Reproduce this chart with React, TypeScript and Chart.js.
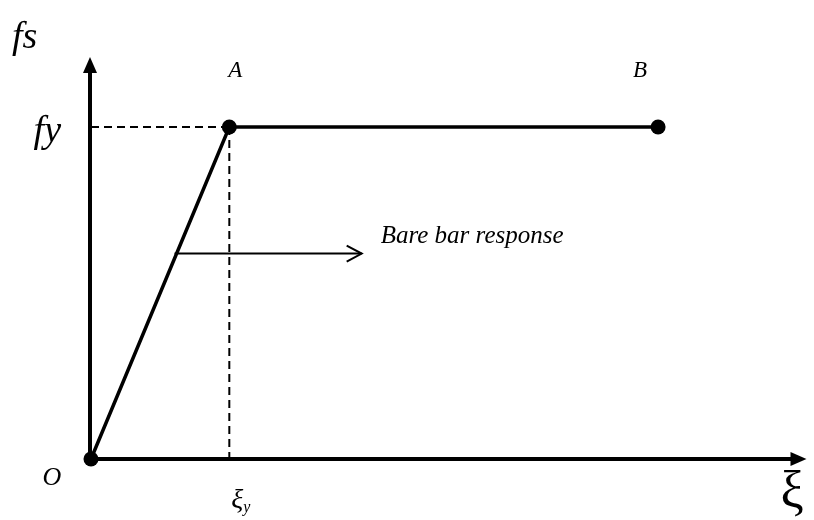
import React, { useEffect, useRef } from "react";
import { Chart, registerables } from "chart.js";

Chart.register(...registerables);

// Bare bar response: stress (fs) vs strain (ξ), normalised so yield = 1
const pointNames = ["O", "A", "B"];
const strain = [0, 1, 4.1];
const stress = [0, 1, 1];
const yieldStrain = 1;
const yieldStress = 1;
const xAxisMax = 5.173;
const yAxisMax = 1.211;
const annotationText = "Bare bar response";
const annotationStrain = [0.604, 1.957];
const annotationStress = 0.619;
const yAxisTitle = "fs";
const yTickLabel = "fy";
const xAxisTitle = "ξ";
const xTickLabel = "ξ";
const xTickSub = "y";

const SERIF = '"Liberation Serif", "DejaVu Serif", serif';

const drawingPlugin = {
  id: "drawing",
  beforeDatasetsDraw(chart: any) {
    const { ctx, scales } = chart;
    const x = scales.x;
    const y = scales.y;
    const ox = x.getPixelForValue(0);
    const oy = y.getPixelForValue(0);
    const xTip = x.getPixelForValue(xAxisMax);
    const yTip = y.getPixelForValue(yAxisMax);
    ctx.save();
    ctx.strokeStyle = "#000";
    ctx.fillStyle = "#000";
    ctx.lineWidth = 4;
    ctx.lineCap = "butt";
    // y axis
    ctx.beginPath();
    ctx.moveTo(ox - 1, oy);
    ctx.lineTo(ox - 1, yTip + 12);
    ctx.stroke();
    ctx.beginPath();
    ctx.moveTo(ox - 1, yTip);
    ctx.lineTo(ox - 8, yTip + 16);
    ctx.lineTo(ox + 6, yTip + 16);
    ctx.closePath();
    ctx.fill();
    // x axis
    ctx.beginPath();
    ctx.moveTo(ox, oy);
    ctx.lineTo(xTip - 12, oy);
    ctx.stroke();
    ctx.beginPath();
    ctx.moveTo(xTip, oy);
    ctx.lineTo(xTip - 16, oy - 7);
    ctx.lineTo(xTip - 16, oy + 7);
    ctx.closePath();
    ctx.fill();
    // annotation arrow
    const ay = y.getPixelForValue(annotationStress);
    const ax0 = x.getPixelForValue(annotationStrain[0]);
    const ax1 = x.getPixelForValue(annotationStrain[1]);
    ctx.lineWidth = 2;
    ctx.beginPath();
    ctx.moveTo(ax0, ay);
    ctx.lineTo(ax1, ay);
    ctx.stroke();
    ctx.beginPath();
    ctx.moveTo(ax1 - 15, ay - 8);
    ctx.lineTo(ax1, ay);
    ctx.lineTo(ax1 - 15, ay + 8);
    ctx.stroke();
    ctx.restore();
  },
  afterDraw(chart: any) {
    const { ctx, scales } = chart;
    const x = scales.x;
    const y = scales.y;
    ctx.save();
    ctx.fillStyle = "#000";
    ctx.textBaseline = "alphabetic";
    // point labels
    const offsets: Record<string, [number, number, number]> = {
      O: [-39, 26, 26],
      A: [6, -50, 23],
      B: [-18, -50, 23],
    };
    pointNames.forEach((n, i) => {
      const px = x.getPixelForValue(strain[i]);
      const py = y.getPixelForValue(stress[i]);
      const [dx, dy, fs] = offsets[n];
      ctx.font = `italic ${fs}px ${SERIF}`;
      ctx.textAlign = "center";
      ctx.fillText(n, px + dx, py + dy);
    });
    const ox = x.getPixelForValue(0);
    const oy = y.getPixelForValue(0);
    // axis titles
    ctx.font = `italic 38px ${SERIF}`;
    ctx.textAlign = "left";
    ctx.fillText(yAxisTitle, 12, 48);
    ctx.textAlign = "right";
    ctx.fillText(yTickLabel, ox - 30, y.getPixelForValue(yieldStress) + 15);
    ctx.font = `52px ${SERIF}`;
    ctx.textAlign = "left";
    ctx.fillText(xAxisTitle, x.getPixelForValue(xAxisMax) - 26, oy + 48);
    // ξy
    const xyPx = x.getPixelForValue(yieldStrain) + 2;
    ctx.font = `italic 28px ${SERIF}`;
    ctx.fillText(xTickLabel, xyPx, oy + 49);
    const w = ctx.measureText(xTickLabel).width;
    ctx.font = `italic 16px ${SERIF}`;
    ctx.fillText(xTickSub, xyPx + w, oy + 53);
    // annotation text
    ctx.font = `italic 25px ${SERIF}`;
    ctx.fillText(annotationText, x.getPixelForValue(annotationStrain[1]) + 19, y.getPixelForValue(annotationStress) - 11);
    ctx.restore();
  },
};

export default function App() {
  const ref = useRef<HTMLCanvasElement | null>(null);
  useEffect(() => {
    document.body.style.margin = "0";
    const canvas = ref.current!;
    const chart = new Chart(canvas, {
      type: "scatter",
      data: {
        datasets: [
          {
            label: "Yield stress",
            data: [
              { x: 0, y: yieldStress },
              { x: yieldStrain, y: yieldStress },
            ],
            showLine: true,
            borderColor: "#000",
            borderWidth: 2,
            borderDash: [8, 5],
            pointRadius: 0,
            clip: false,
          },
          {
            label: "Yield strain",
            data: [
              { x: yieldStrain, y: yieldStress },
              { x: yieldStrain, y: 0 },
            ],
            showLine: true,
            borderColor: "#000",
            borderWidth: 2,
            borderDash: [8, 5],
            pointRadius: 0,
            clip: false,
          },
          {
            label: "Bare bar response",
            data: strain.map((s, i) => ({ x: s, y: stress[i] })),
            showLine: true,
            borderColor: "#000",
            backgroundColor: "#000",
            borderWidth: 3.5,
            pointRadius: 7.5,
            pointBackgroundColor: "#000",
            pointBorderWidth: 0,
            clip: false,
          },
        ],
      },
      options: {
        responsive: false,
        animation: false,
        devicePixelRatio: 1,
        layout: { padding: { left: 91, right: 4, top: 57, bottom: 61 } },
        plugins: { legend: { display: false }, tooltip: { enabled: false } },
        events: [],
        scales: {
          x: { type: "linear", min: 0, max: xAxisMax, display: false },
          y: { type: "linear", min: 0, max: yAxisMax, display: false },
        },
      },
      plugins: [drawingPlugin],
    });
    return () => chart.destroy();
  }, []);
  return <canvas ref={ref} width={814} height={520} style={{ display: "block" }} />;
}
